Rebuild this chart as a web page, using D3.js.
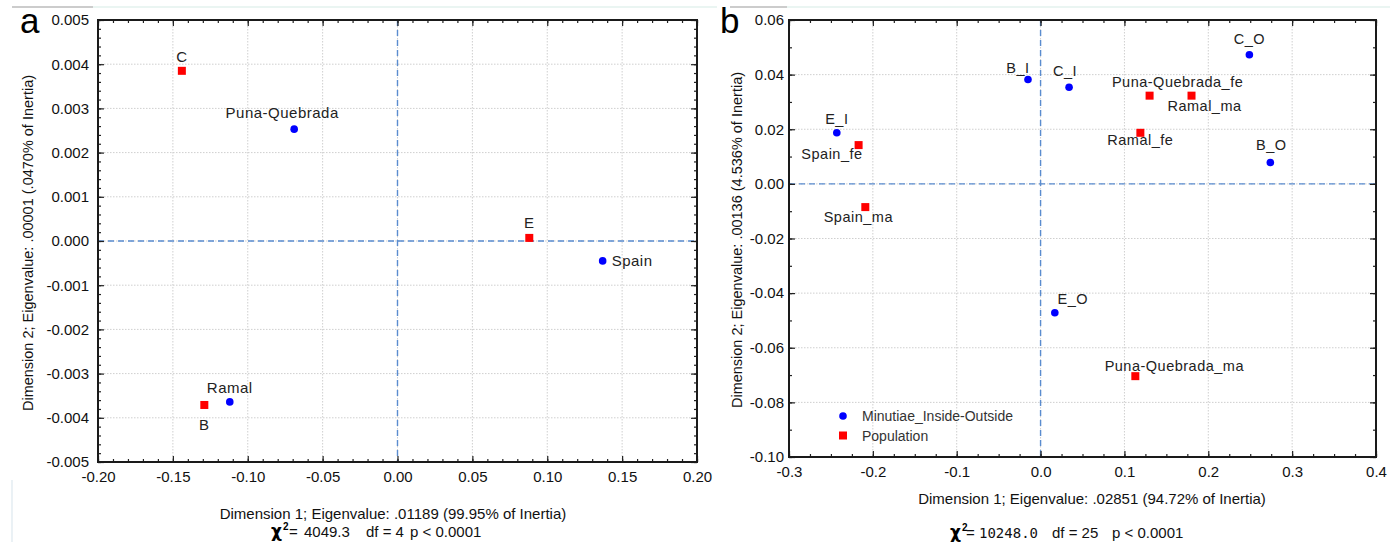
<!DOCTYPE html>
<html lang="en">
<head>
<meta charset="UTF-8">
<title>Correspondence analysis</title>
<style>
  body { margin: 0; background: #fff; }
  svg text { font-family: "Liberation Sans", Arial, sans-serif; }
</style>
</head>
<body>
<div id="chart"></div>
<script src="https://cdnjs.cloudflare.com/ajax/libs/d3/7.8.2/d3.min.js"></script>
<script>
// ---- panel a data ----
var aRegionNames = ["Puna-Quebrada", "Ramal", "Spain"];
var aRegionX = [-0.069, -0.112, 0.137];
var aRegionY = [0.00253, -0.00364, -0.00045];
var aMinutiaNames = ["C", "B", "E"];
var aMinutiaX = [-0.144, -0.129, 0.088];
var aMinutiaY = [0.00385, -0.00371, 0.00007];
var aXTicks = [-0.20, -0.15, -0.10, -0.05, 0.00, 0.05, 0.10, 0.15, 0.20];
var aYTicks = [-0.005, -0.004, -0.003, -0.002, -0.001, 0.000, 0.001, 0.002, 0.003, 0.004, 0.005];

// ---- panel b data ----
var bMinutiaNames = ["B_I", "E_I", "C_I", "C_O", "B_O", "E_O"];
var bMinutiaX = [-0.015, -0.243, 0.034, 0.249, 0.274, 0.017];
var bMinutiaY = [0.0382, 0.0187, 0.0354, 0.0473, 0.0078, -0.0472];
var bPopNames = ["Spain_fe", "Spain_ma", "Puna-Quebrada_fe", "Ramal_ma", "Ramal_fe", "Puna-Quebrada_ma"];
var bPopX = [-0.217, -0.209, 0.130, 0.180, 0.119, 0.113];
var bPopY = [0.0142, -0.0085, 0.0323, 0.0323, 0.0187, -0.0704];
var bXTicks = [-0.3, -0.2, -0.1, 0.0, 0.1, 0.2, 0.3, 0.4];
var bYTicks = [-0.10, -0.08, -0.06, -0.04, -0.02, 0.00, 0.02, 0.04, 0.06];
var bLegend = ["Minutiae_Inside-Outside", "Population"];

var W = 1399, H = 542;
var BLUE = "#0000ff", RED = "#ff0000", DASH = "#5a8ccf";

var loc = d3.formatLocale({decimal: ".", thousands: ",", grouping: [3], currency: ["", ""], minus: "-"});

// label offsets (dx, dy, anchor) relative to the mark
var labelPos = {
  "C": [0, -9, "middle"], "Puna-Quebrada": [-12, -11, "middle"], "Ramal": [0, -9, "middle"],
  "B": [0, 25, "middle"], "E": [0, -10, "middle"], "Spain": [9, 5, "start"],
  "B_I": [-10, -7, "middle"], "E_I": [0, -9, "middle"], "C_I": [-4, -11, "middle"],
  "C_O": [0, -11, "middle"], "B_O": [1, -13, "middle"], "E_O": [18, -9, "middle"],
  "Spain_fe": [4, 14, "end"], "Spain_ma": [-7, 15, "middle"], "Puna-Quebrada_fe": [28, -9, "middle"],
  "Ramal_ma": [13, 15, "middle"], "Ramal_fe": [0, 12, "middle"], "Puna-Quebrada_ma": [39, -5, "middle"]
};

var svg = d3.select("#chart").append("svg")
  .attr("width", W).attr("height", H);

// faint figure border remnants
svg.append("line").attr("x1", 12).attr("x2", 93).attr("y1", 7).attr("y2", 7).attr("stroke", "#9a9a9a").attr("stroke-width", 1.2);
svg.append("line").attr("x1", 93).attr("x2", 717).attr("y1", 7).attr("y2", 7).attr("stroke", "#d6ebe6").attr("stroke-width", 1.2);
svg.append("line").attr("x1", 730).attr("x2", 787).attr("y1", 7).attr("y2", 7).attr("stroke", "#9a9a9a").attr("stroke-width", 1.2);
svg.append("line").attr("x1", 787).attr("x2", 1390).attr("y1", 7).attr("y2", 7).attr("stroke", "#d6ebe6").attr("stroke-width", 1.2);
svg.append("line").attr("x1", 12).attr("x2", 12).attr("y1", 480).attr("y2", 542).attr("stroke", "#dde8ee").attr("stroke-width", 1.2);

function drawPanel(cfg) {
  var x = d3.scaleLinear().domain(cfg.xDomain).range([cfg.left, cfg.right]);
  var y = d3.scaleLinear().domain(cfg.yDomain).range([cfg.bottom, cfg.top]);
  var g = svg.append("g");

  // grid
  g.selectAll(".gx").data(cfg.xTicks).enter().append("line")
    .attr("x1", d => x(d)).attr("x2", d => x(d)).attr("y1", cfg.top).attr("y2", cfg.bottom)
    .attr("stroke", "#cfcfcf").attr("stroke-dasharray", "1.5,1.5");
  g.selectAll(".gy").data(cfg.yTicks).enter().append("line")
    .attr("y1", d => y(d)).attr("y2", d => y(d)).attr("x1", cfg.left).attr("x2", cfg.right)
    .attr("stroke", "#cfcfcf").attr("stroke-dasharray", "1.5,1.5");

  // zero lines
  g.append("line").attr("x1", x(0)).attr("x2", x(0)).attr("y1", cfg.top).attr("y2", cfg.bottom)
    .attr("stroke", DASH).attr("stroke-width", 1.4).attr("stroke-dasharray", "6,4");
  g.append("line").attr("y1", y(0)).attr("y2", y(0)).attr("x1", cfg.left).attr("x2", cfg.right)
    .attr("stroke", DASH).attr("stroke-width", 1.4).attr("stroke-dasharray", "6,4");

  // axes (ticks inward on all four sides)
  var xMinor = d3.range(cfg.xDomain[0], cfg.xDomain[1] + 1e-9, cfg.xMinor);
  var yMinor = d3.range(cfg.yDomain[0], cfg.yDomain[1] + 1e-12, cfg.yMinor);
  function tickAxis(axisFn, scale, vals, size, tr) {
    g.append("g").attr("transform", tr)
      .call(axisFn(scale).tickValues(vals).tickSize(size).tickFormat(""))
      .call(s => s.select(".domain").remove())
      .selectAll("line").attr("stroke", "#222").attr("stroke-width", 1.2);
  }
  tickAxis(d3.axisTop, x, xMinor, 3, "translate(0," + cfg.bottom + ")");
  tickAxis(d3.axisTop, x, cfg.xTicks, 6, "translate(0," + cfg.bottom + ")");
  tickAxis(d3.axisBottom, x, xMinor, 3, "translate(0," + cfg.top + ")");
  tickAxis(d3.axisBottom, x, cfg.xTicks, 6, "translate(0," + cfg.top + ")");
  tickAxis(d3.axisRight, y, yMinor, 3, "translate(" + cfg.left + ",0)");
  tickAxis(d3.axisRight, y, cfg.yTicks, 6, "translate(" + cfg.left + ",0)");
  tickAxis(d3.axisLeft, y, yMinor, 3, "translate(" + cfg.right + ",0)");
  tickAxis(d3.axisLeft, y, cfg.yTicks, 6, "translate(" + cfg.right + ",0)");

  // tick labels
  var bx = g.append("g").attr("transform", "translate(0," + cfg.bottom + ")")
    .call(d3.axisBottom(x).tickValues(cfg.xTicks).tickSize(0).tickPadding(cfg.xPad).tickFormat(loc.format(cfg.xFmt)));
  bx.select(".domain").remove();
  bx.selectAll("text").attr("font-size", 15).attr("fill", "#111")
    .style("font-family", '"Liberation Sans", Arial, sans-serif');
  var ly = g.append("g").attr("transform", "translate(" + cfg.left + ",0)")
    .call(d3.axisLeft(y).tickValues(cfg.yTicks).tickSize(0).tickPadding(cfg.yPad).tickFormat(loc.format(cfg.yFmt)));
  ly.select(".domain").remove();
  ly.selectAll("text").attr("font-size", 15).attr("fill", "#111")
    .style("font-family", '"Liberation Sans", Arial, sans-serif');

  // frame
  g.append("rect").attr("x", cfg.left).attr("y", cfg.top)
    .attr("width", cfg.right - cfg.left).attr("height", cfg.bottom - cfg.top)
    .attr("fill", "none").attr("stroke", "#1a1a1a").attr("stroke-width", 2);

  // points
  function pointLabels(names) {
    g.selectAll(null).data(names).enter().append("text")
      .each(function(d) {
        var p = cfg.pos[d], o = labelPos[d];
        d3.select(this).attr("x", p[0] + o[0]).attr("y", p[1] + o[1]).attr("text-anchor", o[2]);
      })
      .attr("font-size", cfg.labelSize).attr("fill", "#222").attr("letter-spacing", 0.5)
      .text(d => d);
  }
  cfg.pos = {};
  cfg.circles.names.forEach(function(n, i) { cfg.pos[n] = [x(cfg.circles.x[i]), y(cfg.circles.y[i])]; });
  cfg.squares.names.forEach(function(n, i) { cfg.pos[n] = [x(cfg.squares.x[i]), y(cfg.squares.y[i])]; });

  g.selectAll(null).data(cfg.squares.names).enter().append("rect")
    .attr("x", (d, i) => x(cfg.squares.x[i]) - 4).attr("y", (d, i) => y(cfg.squares.y[i]) - 4)
    .attr("width", 8).attr("height", 8).attr("fill", RED);
  g.selectAll(null).data(cfg.circles.names).enter().append("circle")
    .attr("cx", (d, i) => x(cfg.circles.x[i])).attr("cy", (d, i) => y(cfg.circles.y[i]))
    .attr("r", 3.8).attr("fill", BLUE);
  pointLabels(cfg.circles.names);
  pointLabels(cfg.squares.names);

  // axis titles
  g.append("text").attr("x", cfg.xTitlePos[0]).attr("y", cfg.xTitlePos[1])
    .attr("text-anchor", "middle").attr("font-size", 15).attr("fill", "#111").text(cfg.xTitle);
  g.append("text").attr("transform", "translate(" + cfg.yTitlePos[0] + "," + cfg.yTitlePos[1] + ") rotate(-90)")
    .attr("text-anchor", "middle").attr("font-size", 14.5).attr("fill", "#111").text(cfg.yTitle);

  // panel letter
  g.append("text").attr("x", cfg.letterPos[0]).attr("y", cfg.letterPos[1])
    .attr("font-size", 35).attr("fill", "#000").text(cfg.letter);

  // chi-square line
  var c = cfg.chi;
  g.append("text").attr("x", c.x).attr("y", c.y).attr("font-size", 17).attr("font-weight", "bold")
    .style("font-family", '"DejaVu Sans", sans-serif').text("\u03c7");
  g.append("text").attr("x", c.x + 12).attr("y", c.y - 7).attr("font-size", 10).attr("font-weight", "bold").text("2");
  g.append("text").attr("x", c.eqX).attr("y", c.y).attr("font-size", 15).attr("fill", "#111").text("=");
  g.append("text").attr("x", c.numX).attr("y", c.y).attr("font-size", c.numSize).attr("fill", "#111")
    .style("font-family", c.numFont).text(c.num);
  g.append("text").attr("x", c.dfX).attr("y", c.y).attr("font-size", 15).attr("fill", "#111").text(c.df);
  g.append("text").attr("x", c.pX).attr("y", c.y).attr("font-size", 15).attr("fill", "#111").text("p < 0.0001");

  return {x: x, y: y, g: g};
}

drawPanel({
  left: 98, right: 697, top: 20, bottom: 462,
  xDomain: [-0.2, 0.2], yDomain: [-0.005, 0.005],
  xTicks: aXTicks, yTicks: aYTicks, xMinor: 0.01, yMinor: 0.0002,
  xFmt: ".2f", yFmt: ".3f", xPad: 9, yPad: 9, labelSize: 15,
  circles: {names: aRegionNames, x: aRegionX, y: aRegionY},
  squares: {names: aMinutiaNames, x: aMinutiaX, y: aMinutiaY},
  xTitle: "Dimension 1; Eigenvalue: .01189 (99.95% of Inertia)", xTitlePos: [393, 519],
  yTitle: "Dimension 2; Eigenvalue: .00001 (.0470% of Inertia)", yTitlePos: [33, 243],
  letter: "a", letterPos: [20, 33],
  chi: {x: 271, y: 537, eqX: 289, numX: 304, num: "4049.3", numSize: 15,
        numFont: '"Liberation Sans", Arial, sans-serif', dfX: 366, df: "df = 4", pX: 410}
});

var pb = drawPanel({
  left: 789, right: 1376, top: 20, bottom: 457,
  xDomain: [-0.3, 0.4], yDomain: [-0.1, 0.06],
  xTicks: bXTicks, yTicks: bYTicks, xMinor: 0.025, yMinor: 0.01,
  xFmt: ".1f", yFmt: ".2f", xPad: 9, yPad: 5, labelSize: 14.5,
  circles: {names: bMinutiaNames, x: bMinutiaX, y: bMinutiaY},
  squares: {names: bPopNames, x: bPopX, y: bPopY},
  xTitle: "Dimension 1; Eigenvalue: .02851 (94.72% of Inertia)", xTitlePos: [1092, 504],
  yTitle: "Dimension 2; Eigenvalue: .00136 (4.536% of Inertia)", yTitlePos: [742, 240],
  letter: "b", letterPos: [720, 33],
  chi: {x: 950, y: 538, eqX: 966, numX: 979, num: "10248.0", numSize: 14,
        numFont: '"DejaVu Sans Mono", monospace', dfX: 1052, df: "df = 25", pX: 1112}
});

// legend for panel b
var leg = pb.g.append("g").attr("transform", "translate(843,416)");
leg.selectAll("text").data(bLegend).enter().append("text")
  .attr("x", 19).attr("y", (d, i) => 5 + i * 19.5)
  .attr("font-size", 14).attr("fill", "#333").text(d => d);
leg.append("circle").attr("cx", 0).attr("cy", 0).attr("r", 3.8).attr("fill", BLUE);
leg.append("rect").attr("x", -4).attr("y", 19.5 - 4).attr("width", 8).attr("height", 8).attr("fill", RED);
</script>
</body>
</html>
